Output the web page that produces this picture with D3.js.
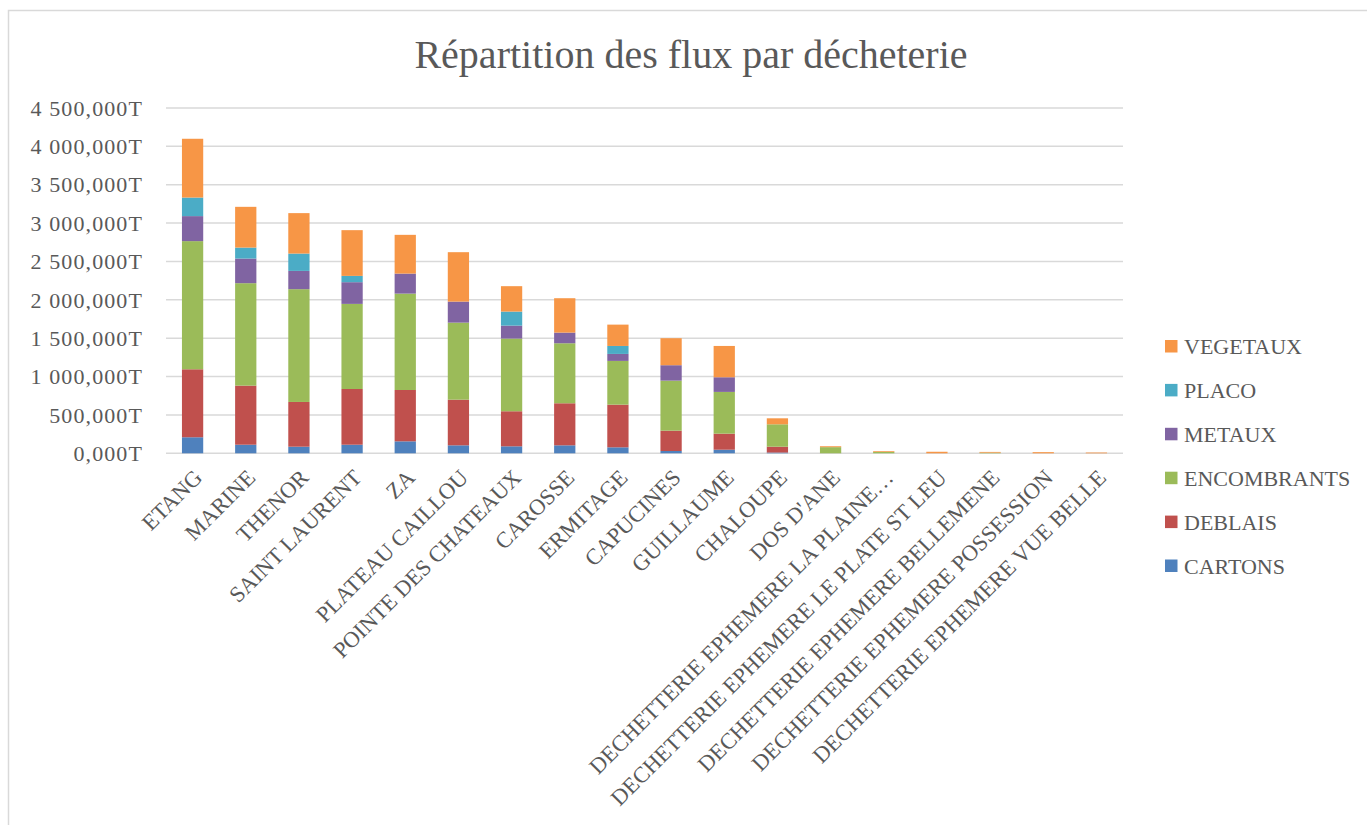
<!DOCTYPE html>
<html>
<head>
<meta charset="utf-8">
<script src="https://cdn.jsdelivr.net/npm/d3@7"></script>
<style>
  body { margin: 0; background: #fff; }
  svg { display: block; }
  text { font-family: "Liberation Serif", serif; fill: #595959; }
</style>
</head>
<body>
<svg width="1367" height="825"></svg>
<script>
// values in tonnes
var categories = ["ETANG", "MARINE", "THENOR", "SAINT LAURENT", "ZA", "PLATEAU CAILLOU",
    "POINTE DES CHATEAUX", "CAROSSE", "ERMITAGE", "CAPUCINES", "GUILLAUME", "CHALOUPE",
    "DOS D'ANE", "DECHETTERIE EPHEMERE LA PLAINE…", "DECHETTERIE EPHEMERE LE PLATE ST LEU",
    "DECHETTERIE EPHEMERE BELLEMENE", "DECHETTERIE EPHEMERE POSSESSION", "DECHETTERIE EPHEMERE VUE BELLE"];
var cartons     = [209, 112, 86, 112, 156, 104, 91, 104, 78, 30, 47, 10, 0, 0, 0, 0, 0, 0];
var deblais     = [886, 770, 583, 726, 669, 595, 457, 548, 556, 265, 209, 76, 0, 0, 0, 0, 0, 0];
var encombrants = [1670, 1335, 1470, 1109, 1256, 1004, 947, 782, 570, 652, 544, 292, 80, 18, 0, 8, 0, 0];
var metaux      = [326, 321, 238, 283, 261, 274, 169, 139, 91, 201, 191, 0, 0, 0, 0, 0, 0, 0];
var placo       = [242, 143, 226, 82, 0, 0, 183, 0, 104, 0, 0, 0, 0, 0, 0, 0, 0, 0];
var vegetaux    = [766, 531, 527, 596, 505, 644, 331, 448, 278, 352, 408, 78, 12, 10, 20, 10, 15, 10];
var seriesNames = ["CARTONS", "DEBLAIS", "ENCOMBRANTS", "METAUX", "PLACO", "VEGETAUX"];
var seriesColors = ["#4F81BD", "#C0504D", "#9BBB59", "#8064A2", "#4BACC6", "#F79646"];
var yTicks = [0, 500000, 1000000, 1500000, 2000000, 2500000, 3000000, 3500000, 4000000, 4500000];

var seriesValues = [cartons, deblais, encombrants, metaux, placo, vegetaux];
var rows = categories.map(function (c, i) {
    var r = { name: c };
    seriesNames.forEach(function (s, j) { r[s] = seriesValues[j][i] * 1000; });
    return r;
});

var svg = d3.select("svg");

// chart frame
svg.append("path")
    .attr("d", "M8.5,830 V10.5 H1370")
    .attr("fill", "none")
    .attr("stroke", "#d9d9d9")
    .attr("stroke-width", 1.5);

var x = d3.scaleBand().domain(categories).range([166, 1123]).paddingInner(0.6).paddingOuter(0.3);
var y = d3.scaleLinear().domain([0, 4500000]).range([453.3, 108]);

var fmt = function (v) {
    var s = d3.format(",")(v / 1000).replace(/,/g, " ");
    return s + ",000T";
};

// gridlines
svg.append("g").selectAll("line")
    .data(yTicks)
    .enter().append("line")
    .attr("x1", 166).attr("x2", 1123)
    .attr("y1", d => y(d)).attr("y2", d => y(d))
    .attr("stroke", "#d9d9d9")
    .attr("stroke-width", 1.5);

// y labels
svg.append("g").selectAll("text")
    .data(yTicks)
    .enter().append("text")
    .attr("x", 143)
    .attr("y", d => y(d))
    .attr("dy", "0.35em")
    .attr("text-anchor", "end")
    .style("font-size", "22px")
    .style("letter-spacing", "1.1px")
    .text(fmt);

// stacked bars
var stack = d3.stack().keys(seriesNames)(rows);
svg.append("g").selectAll("g")
    .data(stack)
    .enter().append("g")
    .attr("fill", (d, i) => seriesColors[i])
    .selectAll("rect")
    .data(d => d)
    .enter().append("rect")
    .attr("x", d => x(d.data.name))
    .attr("width", x.bandwidth())
    .attr("y", d => y(d[1]))
    .attr("height", d => y(d[0]) - y(d[1]));

// x labels
svg.append("g").selectAll("text")
    .data(categories)
    .enter().append("text")
    .attr("transform", d => `translate(${x(d) + x.bandwidth() / 2 + 11},${479}) rotate(-45)`)
    .attr("text-anchor", "end")
    .style("font-size", "22.5px")
    .text(d => d);

// title
svg.append("text")
    .attr("x", 691)
    .attr("y", 68)
    .attr("text-anchor", "middle")
    .style("font-size", "40px")
    .text("Répartition des flux par décheterie");

// legend (reverse order, like the reference)
var legend = svg.append("g").selectAll("g")
    .data(seriesNames.slice().reverse())
    .enter().append("g")
    .attr("transform", (d, i) => `translate(1165,${346.5 + i * 43.9})`);
legend.append("rect")
    .attr("x", 0).attr("y", -6.5)
    .attr("width", 12.5).attr("height", 12.5)
    .attr("fill", d => seriesColors[seriesNames.indexOf(d)]);
legend.append("text")
    .attr("x", 19)
    .attr("dy", "0.35em")
    .style("font-size", "22px")
    .text(d => d);
</script>
</body>
</html>
